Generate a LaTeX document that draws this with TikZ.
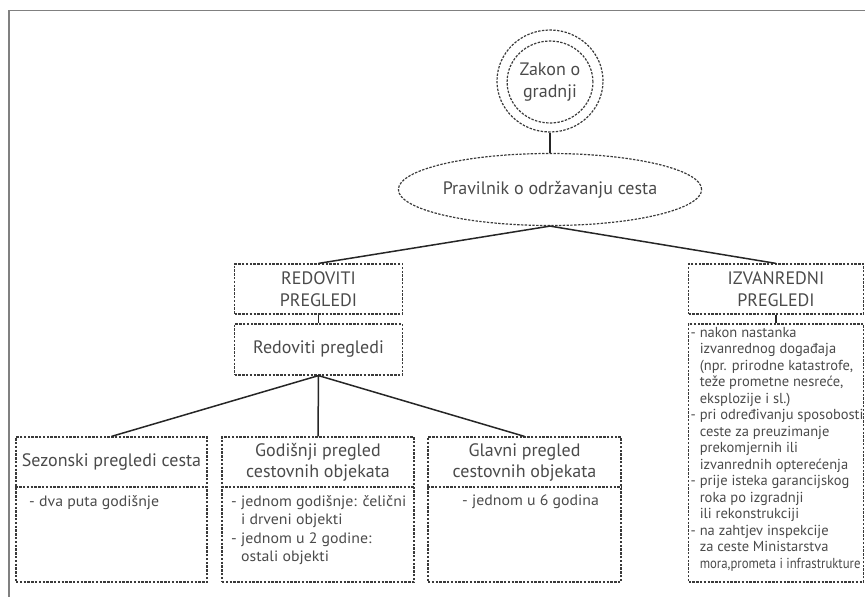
\documentclass[tikz,border=0pt]{standalone}
\usepackage{fontspec}
\setmainfont{PT Sans}
\newfontfamily\bodyfont[FakeStretch=1.055]{PT Sans}
\newfontfamily\rbodyfont{PT Sans}
\newfontfamily\tightfont[FakeStretch=0.88]{PT Sans}
\usetikzlibrary{shapes.geometric}
\definecolor{txt}{HTML}{4A4A4A}
\definecolor{dsh}{HTML}{3A3A3A}
\definecolor{frm}{HTML}{808080}
\tikzset{
  dbox/.style={draw=dsh, line width=1.2pt, dash pattern=on 2.4pt off 1.4pt, rectangle, inner sep=0pt},
  dell/.style={draw=dsh, line width=1.2pt, dash pattern=on 2.4pt off 1.4pt, ellipse, inner sep=0pt},
  conn/.style={draw=black!85, line width=1.5pt},
  ttl/.style={text=txt, font=\fontsize{18}{21.5}\selectfont, align=center, inner sep=0pt},
  body/.style={text=txt, font=\bodyfont\fontsize{15}{18.5}\selectfont, align=left, inner sep=0pt, anchor=north west},
  rbody/.style={text=txt, font=\rbodyfont\fontsize{14.5}{16.5}\selectfont, align=left, inner sep=0pt, anchor=north west},
}
\begin{document}
\begin{tikzpicture}[x=1pt,y=-1pt]
\useasboundingbox (0,0) rectangle (865,597);
% frame
\draw[frm, line width=1.3pt] (9,597) -- (9,10.5) -- (865,10.5);

% Zakon o gradnji
\node[dell, minimum width=106pt, minimum height=102pt] (zo) at (550,81) {};
\node[dell, minimum width=82pt, minimum height=82pt, ttl] (zi) at (550,82) {Zakon o\\gradnji};

% Pravilnik
\node[dell, minimum width=252pt, minimum height=72pt, ttl] (prav) at (550,189.5) {Pravilnik o održavanju cesta};

% Redoviti
\node[dbox, minimum width=168pt, minimum height=50pt, ttl] (red) at (318.5,289) {REDOVITI\\PREGLEDI};
\node[dbox, minimum width=168pt, minimum height=51pt, ttl] (redp) at (318.5,349.5) {Redoviti pregledi};

% Izvanredni
\node[dbox, minimum width=175pt, minimum height=50pt, ttl] (izv) at (776,289) {IZVANREDNI\\PREGLEDI};
\node[dbox, minimum width=175pt, minimum height=258pt] (izvb) at (776,453) {};
\node[rbody] (izvt) at (690.5,327) {- nakon nastanka\\
\hphantom{- }izvanrednog događaja\\
\hphantom{- }(npr. prirodne katastrofe,\\
\hphantom{- }teže prometne nesreće,\\
\hphantom{- }eksplozije i sl.)\\
- pri određivanju sposobosti\\
\hphantom{- }ceste za preuzimanje\\
\hphantom{- }prekomjernih ili\\
\hphantom{- }izvanrednih opterećenja\\
- prije isteka garancijskog\\
\hphantom{- }roka po izgradnji\\
\hphantom{- }ili rekonstrukciji\\
- na zahtjev inspekcije\\
\hphantom{- }za ceste Ministarstva\\
\hphantom{- }{\tightfont mora,prometa i infrastrukture}};

% lower boxes
\node[dbox, minimum width=191pt, minimum height=145pt] (sez) at (111.5,509.5) {};
\node[dbox, minimum width=192pt, minimum height=145pt] (god) at (318,509.5) {};
\node[dbox, minimum width=193pt, minimum height=145pt] (gla) at (524.5,509.5) {};
\foreach \b in {sez,god,gla}
  \draw[dsh, line width=1.2pt, dash pattern=on 2.4pt off 1.4pt] (\b.west |- 0,487) -- (\b.east |- 0,487);

\node[ttl] (sezt) at (111.5,462) {Sezonski pregledi cesta};
\node[ttl] (godt) at (318,462.5) {Godišnji pregled\\cestovnih objekata};
\node[ttl] (glat) at (524.5,462.5) {Glavni pregled\\cestovnih objekata};

\node[body] (sezb) at (29,495) {- dva puta godišnje};
\node[body] (godb) at (231,495) {- jednom godišnje: čelični\\
\hphantom{- }i drveni objekti\\
- jednom u 2 godine:\\
\hphantom{- }ostali objekti};
\node[body] (glab) at (462,495) {- jednom u 6 godina};

% connectors
\draw[conn] (zo.south) -- (prav.north);
\draw[conn] (prav.south) -- (red.north);
\draw[conn] (prav.south) -- (izv.north);
\draw[conn] (red.south) -- (redp.north);
\draw[conn] (izv.south) -- (izvb.north);
\draw[conn] (redp.south) -- (sez.north);
\draw[conn] (redp.south) -- (god.north);
\draw[conn] (redp.south) -- (gla.north);
\end{tikzpicture}
\end{document}
